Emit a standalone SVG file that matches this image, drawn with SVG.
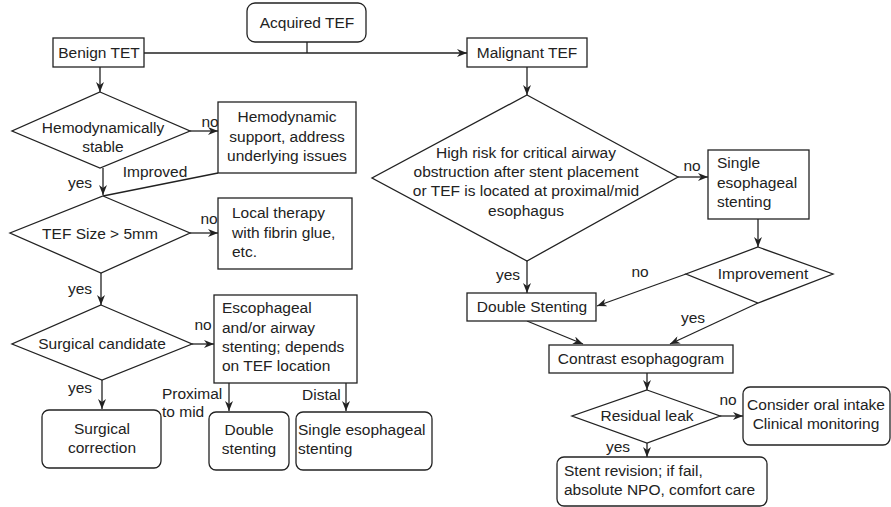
<svg xmlns="http://www.w3.org/2000/svg" width="891" height="507" viewBox="0 0 891 507">
  <style>
    .shape { fill: #fff; stroke: #222; stroke-width: 1.3; }
    .edge { fill: none; stroke: #222; stroke-width: 1.3; }
    text { font-family: "Liberation Sans", Arial, sans-serif; font-size: 15.5px; fill: #222; }
    .c { text-anchor: middle; }
  </style>
  <defs>
    <marker id="arr" viewBox="0 0 10 8" refX="10" refY="4" markerWidth="10" markerHeight="8" markerUnits="userSpaceOnUse" orient="auto">
      <path d="M0,0 L10,4 L0,8 L3,4 z" fill="#222"/>
    </marker>
  </defs>
  <rect width="891" height="507" fill="#fff"/>

  <g id="connectors">
    <!-- root split -->
    <path class="edge" d="M307,42 V53"/>
    <path class="edge" d="M144,53 H467" marker-end="url(#arr)"/>
    <!-- benign branch -->
    <path class="edge" d="M100,67 V92" marker-end="url(#arr)"/>
    <path class="edge" d="M190,131 H218" marker-end="url(#arr)"/>
    <path class="edge" d="M103,168 V195" marker-end="url(#arr)"/>
    <path class="edge" d="M218,173 L103,196"/>
    <path class="edge" d="M190,233 H218" marker-end="url(#arr)"/>
    <path class="edge" d="M101,273 V305" marker-end="url(#arr)"/>
    <path class="edge" d="M192,344 H214" marker-end="url(#arr)"/>
    <path class="edge" d="M102,380 V409" marker-end="url(#arr)"/>
    <path class="edge" d="M229,383 V411" marker-end="url(#arr)"/>
    <path class="edge" d="M346,383 V411" marker-end="url(#arr)"/>
    <!-- malignant branch -->
    <path class="edge" d="M527,67 V95" marker-end="url(#arr)"/>
    <path class="edge" d="M678,177 H708" marker-end="url(#arr)"/>
    <path class="edge" d="M758,219 V247" marker-end="url(#arr)"/>
    <path class="edge" d="M527,261 V293" marker-end="url(#arr)"/>
    <path class="edge" d="M686,274 L597,306" marker-end="url(#arr)"/>
    <path class="edge" d="M758,303 L670,344" marker-end="url(#arr)"/>
    <path class="edge" d="M527,321 L583,344" marker-end="url(#arr)"/>
    <path class="edge" d="M647,373 V390" marker-end="url(#arr)"/>
    <path class="edge" d="M720,416 H743" marker-end="url(#arr)"/>
    <path class="edge" d="M647,443 V457" marker-end="url(#arr)"/>

    <!-- edge labels -->
    <text x="210" y="127" class="c">no</text>
    <text x="155" y="177" class="c">Improved</text>
    <text x="80" y="188" class="c">yes</text>
    <text x="209" y="224" class="c">no</text>
    <text x="80" y="294" class="c">yes</text>
    <text x="203" y="330" class="c">no</text>
    <text x="80" y="393" class="c">yes</text>
    <text x="162" y="399">Proximal</text>
    <text x="162" y="417">to mid</text>
    <text x="302" y="400">Distal</text>
    <text x="692" y="171" class="c">no</text>
    <text x="508" y="280" class="c">yes</text>
    <text x="640" y="277" class="c">no</text>
    <text x="693" y="323" class="c">yes</text>
    <text x="728" y="405" class="c">no</text>
    <text x="618" y="452" class="c">yes</text>
  </g>

  <g id="acquired-tef">
    <rect class="shape" x="247" y="3" width="119" height="39" rx="8"/>
    <text x="307" y="28" class="c">Acquired TEF</text>
  </g>
  <g id="benign-tet">
    <rect class="shape" x="53" y="38" width="91" height="29"/>
    <text x="99" y="58" class="c">Benign TET</text>
  </g>
  <g id="malignant-tef">
    <rect class="shape" x="467" y="38" width="120" height="29"/>
    <text x="527" y="58" class="c">Malignant TEF</text>
  </g>

  <g id="hemo-stable">
    <polygon class="shape" points="100,92 190,131 100,168 12,131"/>
    <text x="103" y="133" class="c">Hemodynamically</text>
    <text x="103" y="152" class="c">stable</text>
  </g>
  <g id="hemo-support">
    <rect class="shape" x="218" y="102" width="138" height="71"/>
    <text x="287" y="122" class="c">Hemodynamic</text>
    <text x="287" y="142" class="c">support, address</text>
    <text x="287" y="161" class="c">underlying issues</text>
  </g>
  <g id="tef-size">
    <polygon class="shape" points="103,196 190,233 101,273 10,233"/>
    <text x="100" y="239" class="c">TEF Size &gt; 5mm</text>
  </g>
  <g id="local-therapy">
    <rect class="shape" x="218" y="198" width="134" height="71"/>
    <text x="232" y="218">Local therapy</text>
    <text x="232" y="238">with fibrin glue,</text>
    <text x="232" y="257">etc.</text>
  </g>
  <g id="surgical-candidate">
    <polygon class="shape" points="101,305 192,344 102,380 12,344"/>
    <text x="102" y="349" class="c">Surgical candidate</text>
  </g>
  <g id="stenting-choice">
    <rect class="shape" x="214" y="295" width="143" height="88"/>
    <text x="222" y="313">Escophageal</text>
    <text x="222" y="333">and/or airway</text>
    <text x="222" y="352">stenting; depends</text>
    <text x="222" y="371">on TEF location</text>
  </g>
  <g id="surgical-correction">
    <rect class="shape" x="42" y="410" width="119" height="58" rx="7"/>
    <text x="102" y="434" class="c">Surgical</text>
    <text x="102" y="453" class="c">correction</text>
  </g>
  <g id="double-stenting-benign">
    <rect class="shape" x="209" y="412" width="80" height="58" rx="7"/>
    <text x="249" y="435" class="c">Double</text>
    <text x="249" y="454" class="c">stenting</text>
  </g>
  <g id="single-stenting-benign">
    <rect class="shape" x="296" y="412" width="136" height="58" rx="7"/>
    <text x="298" y="435">Single esophageal</text>
    <text x="298" y="454">stenting</text>
  </g>

  <g id="high-risk">
    <polygon class="shape" points="527,95 678,177 527,261 372,178"/>
    <text x="526" y="158" class="c">High risk for critical airway</text>
    <text x="526" y="177" class="c">obstruction after stent placement</text>
    <text x="526" y="196" class="c">or TEF is located at proximal/mid</text>
    <text x="526" y="216" class="c">esophagus</text>
  </g>
  <g id="single-stenting-malignant">
    <rect class="shape" x="708" y="150" width="101" height="69"/>
    <text x="717" y="168">Single</text>
    <text x="717" y="188">esophageal</text>
    <text x="717" y="207">stenting</text>
  </g>
  <g id="improvement">
    <polygon class="shape" points="758,247 833,274 758,303 686,274"/>
    <text x="763" y="279" class="c">Improvement</text>
  </g>
  <g id="double-stenting-malignant">
    <rect class="shape" x="467" y="293" width="129" height="28"/>
    <text x="532" y="312" class="c">Double Stenting</text>
  </g>
  <g id="contrast-esophagogram">
    <rect class="shape" x="549" y="345" width="184" height="28"/>
    <text x="641" y="364" class="c">Contrast esophagogram</text>
  </g>
  <g id="residual-leak">
    <polygon class="shape" points="647,390 720,416 647,443 572,416"/>
    <text x="647" y="421" class="c">Residual leak</text>
  </g>
  <g id="oral-intake">
    <rect class="shape" x="743" y="387" width="147" height="58" rx="7"/>
    <text x="816" y="410" class="c">Consider oral intake</text>
    <text x="816" y="429" class="c">Clinical monitoring</text>
  </g>
  <g id="stent-revision">
    <rect class="shape" x="557" y="457" width="210" height="49" rx="7"/>
    <text x="564" y="476">Stent revision; if fail,</text>
    <text x="564" y="495">absolute NPO, comfort care</text>
  </g>
</svg>
